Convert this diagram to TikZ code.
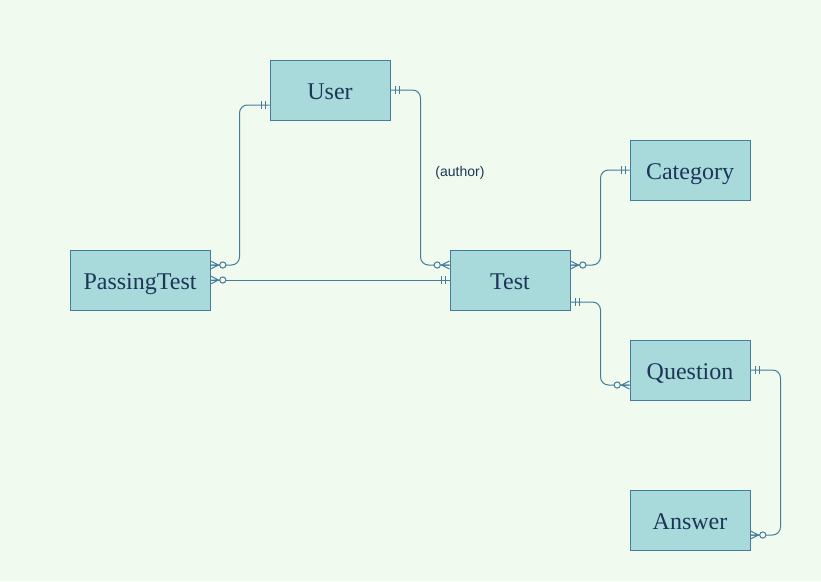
\documentclass[tikz,border=0pt]{standalone}
\usepackage{fontspec}
\setmainfont{Liberation Serif}
\newfontfamily\labelfont{Liberation Sans}
\definecolor{bgc}{HTML}{F1FAEE}
\definecolor{boxfill}{HTML}{A8DADC}
\definecolor{boxline}{HTML}{457B9D}
\definecolor{txt}{HTML}{1D3557}
\begin{document}
\begin{tikzpicture}[x=1pt,y=-1pt,
  entity/.style={draw=boxline,fill=boxfill,line width=1pt,minimum width=120pt,minimum height=60pt,inner sep=0pt,text=txt,text height=22pt,text depth=4pt,font=\fontsize{24}{26}\selectfont},
  rel/.style={draw=boxline,line width=1pt,rounded corners=8pt},
  onemark/.pic={\draw[boxline,line width=1pt] (4.5,-4)--(4.5,4) (8.5,-4)--(8.5,4);},
  manymark/.pic={\draw[boxline,line width=1pt] (0,-4)--(8,0)--(0,4) (0,0)--(9,0);
                 \draw[boxline,line width=1pt,fill=bgc] (12.3,0) circle (3.1);},
  lbl/.style={text=txt,font=\labelfont\fontsize{14}{16}\selectfont,inner sep=0pt}]
\useasboundingbox[fill=bgc] (0,0) rectangle (821,581);

\node[entity] (User) at (330,90) {User};
\node[entity] (Category) at (690,170) {Category};
\node[entity,minimum width=140pt] (PassingTest) at (140,280) {PassingTest};
\node[entity] (Test) at (510,280) {Test};
\node[entity] (Question) at (690,370) {Question};
\node[entity] (Answer) at (690,520) {Answer};

\coordinate (u1) at ([yshift=-15pt]User.west);
\coordinate (p1) at ([yshift=15pt]PassingTest.east);
\coordinate (t1) at ([yshift=15pt]Test.west);
\coordinate (t2) at ([yshift=15pt]Test.east);
\coordinate (t3) at ([yshift=-22pt]Test.east);
\coordinate (q1) at ([yshift=-15pt]Question.west);
\coordinate (a1) at ([yshift=-15pt]Answer.east);

\draw[rel] (u1) -- ++(-30,0) |- (p1);
\draw[rel] (User.east) -- ++(30,0) |- (t1);
\draw[rel] (PassingTest.east) -- (Test.west);
\draw[rel] (t2) -- ++(30,0) |- (Category.west);
\draw[rel] (t3) -- ++(30,0) |- (q1);
\draw[rel] (Question.east) -- ++(30,0) |- (a1);

\pic[rotate=180] at (u1) {onemark};
\pic at (p1) {manymark};
\pic at (User.east) {onemark};
\pic[rotate=180] at (t1) {manymark};
\pic at (PassingTest.east) {manymark};
\pic[rotate=180] at (Test.west) {onemark};
\pic at (t2) {manymark};
\pic[rotate=180] at (Category.west) {onemark};
\pic at (t3) {onemark};
\pic[rotate=180] at (q1) {manymark};
\pic at (Question.east) {onemark};
\pic at (a1) {manymark};

\node[lbl] (author) at (460,173) {(author)};
\end{tikzpicture}
\end{document}
